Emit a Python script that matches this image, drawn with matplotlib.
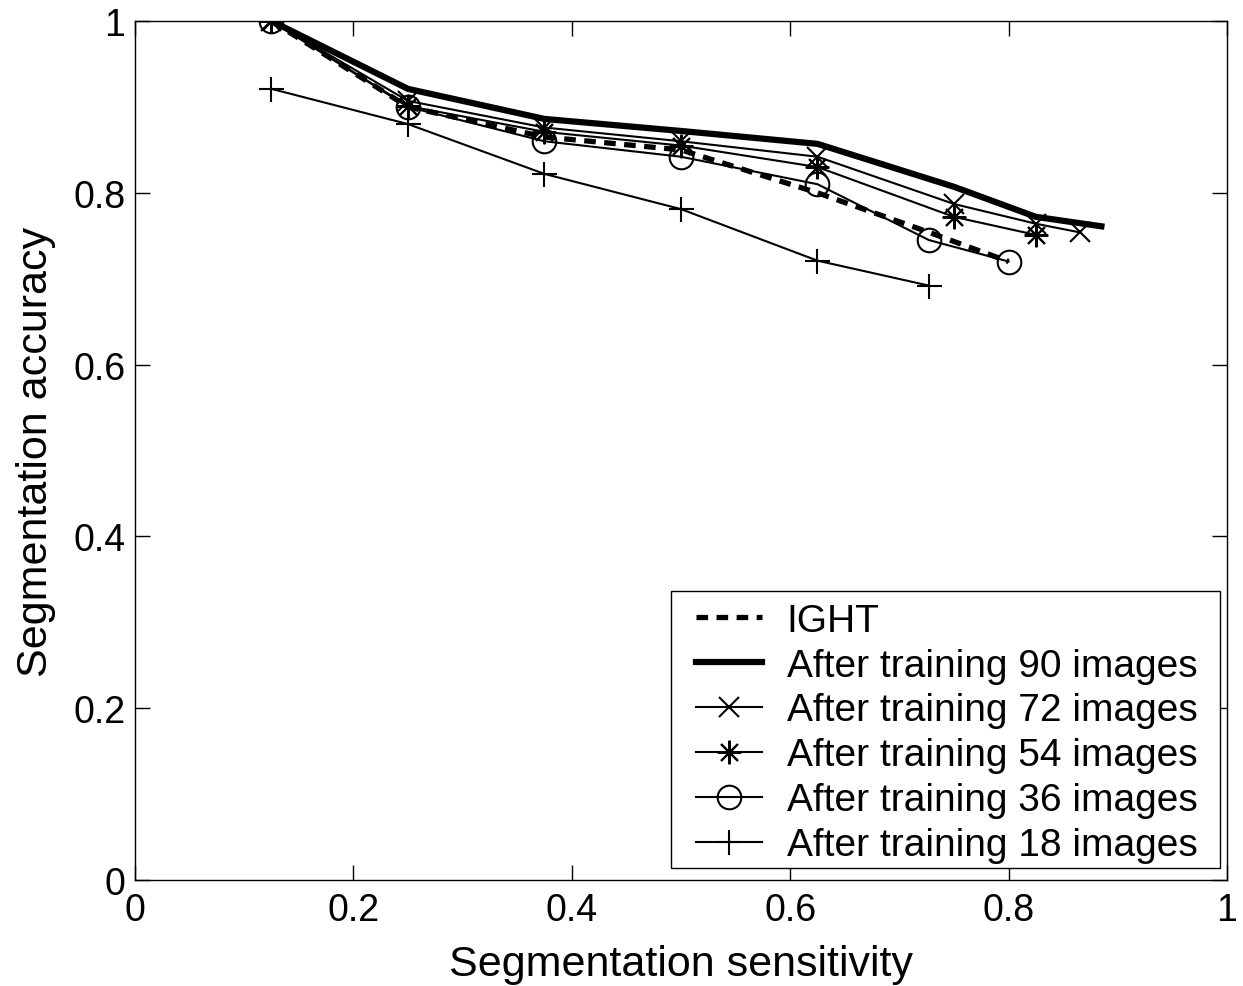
import matplotlib
matplotlib.use('Agg')
import matplotlib.pyplot as plt
from matplotlib.patches import Rectangle
from matplotlib.ticker import FuncFormatter

plt.rcParams['font.family'] = ['Liberation Sans', 'DejaVu Sans']

# data
ight_x = [0.125, 0.25, 0.375, 0.5, 0.625, 0.725, 0.8]
ight_y = [1.0, 0.90, 0.865, 0.85, 0.80, 0.755, 0.72]

t90_x = [0.125, 0.25, 0.375, 0.5, 0.625, 0.75, 0.825, 0.885]
t90_y = [1.0, 0.921, 0.886, 0.872, 0.857, 0.807, 0.772, 0.761]

t72_x = [0.125, 0.25, 0.375, 0.5, 0.625, 0.75, 0.825, 0.865]
t72_y = [1.0, 0.907, 0.876, 0.860, 0.842, 0.787, 0.764, 0.754]

t54_x = [0.125, 0.25, 0.375, 0.5, 0.625, 0.75, 0.825]
t54_y = [1.0, 0.901, 0.871, 0.855, 0.830, 0.772, 0.751]

t36_x = [0.125, 0.25, 0.375, 0.5, 0.625, 0.727, 0.8]
t36_y = [1.0, 0.90, 0.860, 0.842, 0.810, 0.745, 0.720]

t18_x = [0.125, 0.25, 0.375, 0.5, 0.625, 0.727]
t18_y = [0.921, 0.880, 0.822, 0.781, 0.721, 0.692]

labels = ['IGHT', 'After training 90 images', 'After training 72 images',
          'After training 54 images', 'After training 36 images',
          'After training 18 images']
ticks = [0, 0.2, 0.4, 0.6, 0.8, 1]

fig = plt.figure(figsize=(12.43, 9.87), dpi=100)
ax = fig.add_axes([0.1086, 0.1074, 0.8785, 0.8703])

ax.plot(ight_x, ight_y, 'k--', lw=3.8, dashes=(2.2, 1.6), label=labels[0])
ax.plot(t90_x, t90_y, 'k-', lw=4.5, label=labels[1])
ax.plot(t72_x, t72_y, 'k-', lw=1.5, marker='x', ms=15, mew=1.5, label=labels[2])
ax.plot(t54_x, t54_y, 'k-', lw=1.5, marker=(8, 2, 0), ms=17, mew=1.5, label=labels[3])
ax.plot(t36_x, t36_y, 'k-', lw=1.5, marker='o', ms=17, mew=1.5, mfc='none', label=labels[4])
ax.plot(t18_x, t18_y, 'k-', lw=1.5, marker='+', ms=18, mew=1.5, label=labels[5])

ax.set_xlim(0, 1)
ax.set_ylim(0, 1)
ax.set_xticks(ticks)
ax.set_yticks(ticks)
fmt = FuncFormatter(lambda v, p: '%g' % v)
ax.xaxis.set_major_formatter(fmt)
ax.yaxis.set_major_formatter(fmt)
ax.tick_params(direction='in', length=11, width=1.0, labelsize=27,
               top=True, right=True, pad=7)
ax.tick_params(axis='x', pad=8.5)
for s in ax.spines.values():
    s.set_linewidth(1.0)

ax.set_xlabel('Segmentation sensitivity', fontsize=31, labelpad=12)
ax.set_ylabel('Segmentation accuracy', fontsize=31, labelpad=12)

# legend without its own frame; a wider box is drawn behind it (MATLAB look)
leg = ax.legend(loc='lower right', bbox_to_anchor=(1 - 18 / 1092, 5 / 859),
                borderaxespad=0, fontsize=28, frameon=False,
                handlelength=1.7, handletextpad=0.62, labelspacing=0.23,
                borderpad=0.3)
fig.canvas.draw()
bb = leg.get_window_extent().transformed(ax.transAxes.inverted())
dxl, dxr, dyb = 14 / 1092, 11 / 1092, 7 / 859
ax.add_patch(Rectangle((bb.x0 - dxl, bb.y0 + dyb), bb.width + dxl + dxr,
                       bb.height - dyb, transform=ax.transAxes,
                       facecolor='white', edgecolor='black', lw=1.0,
                       zorder=4.5, clip_on=False))

fig.savefig('out.png', dpi=100)
